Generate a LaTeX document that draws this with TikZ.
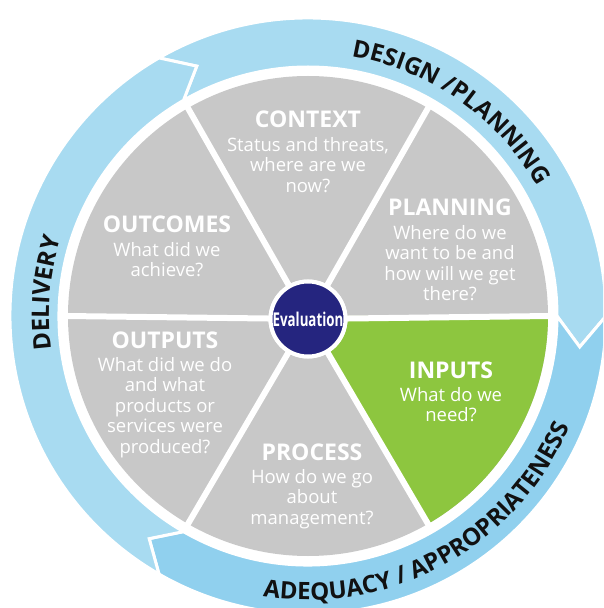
\documentclass[tikz,border=0pt]{standalone}
\usepackage{fontspec}
\setmainfont{Open Sans}
\usetikzlibrary{positioning, decorations.text}
\definecolor{wheelgray}{HTML}{C8C8C8}
\definecolor{inpgreen}{HTML}{8DC63F}
\definecolor{evalnavy}{HTML}{25257F}
\definecolor{ringlight}{HTML}{A8DBF1}
\definecolor{ringdark}{HTML}{90D0EE}
\definecolor{ringink}{HTML}{111111}

\begin{document}
\begin{tikzpicture}[%
		x=1pt, y=1pt,
		heading/.style={
			text=white,
			font=\fontsize{23}{23}\selectfont\bfseries,
			inner sep=0pt,
			text height=16pt,
			text depth=0pt
		},
		question/.style={
			text=white,
			font=\fontsize{18.5}{20.5}\selectfont,
			align=center,
			inner sep=0pt
		},
		hub/.style={
			circle,
			fill=evalnavy,
			draw=white,
			line width=4pt,
			minimum size=75pt,
			inner sep=0pt,
			text=white,
			font=\fontsize{19}{19}\selectfont\bfseries
		},
		divider/.style={
			white,
			line width=6pt
		},
		ringseg/.style={
			draw=white,
			line width=3pt
		},
		ringtext/.style={
			decorate,
			decoration={text along path, text align=center,
				text={|\fontsize{24}{24}\selectfont\bfseries\color{ringink}|#1}}
		}]

		\useasboundingbox (-308,-292) rectangle (295,316);
		\clip (-308,-292) rectangle (295,316);

		% OUTER RING

		\filldraw[ringseg, fill=ringlight] (120:298) arc[start angle=120, end angle=0, radius=298] -- (-6.5:273.5) -- (0:249) arc[start angle=0, end angle=120, radius=249] -- (114:273.5) -- cycle;
		\filldraw[ringseg, fill=ringdark] (0:298) arc[start angle=0, end angle=-120, radius=298] -- (-125.5:273.5) -- (-120:249) arc[start angle=-120, end angle=0, radius=249] -- (-6.5:273.5) -- cycle;
		\filldraw[ringseg, fill=ringlight] (240:298) arc[start angle=240, end angle=120, radius=298] -- (114:273.5) -- (120:249) arc[start angle=120, end angle=240, radius=249] -- (234.5:273.5) -- cycle;

		\path[ringtext={DESIGN /PLANNING}] (86:263) arc[start angle=86, end angle=24, radius=263];
		\path[ringtext={ADEQUACY / APPROPRIATENESS}] (248:284) arc[start angle=248, end angle=350, radius=284];
		\path[ringtext={DELIVERY}] (200:259) arc[start angle=200, end angle=150, radius=259];

		% WHEEL

		\fill[wheelgray] (0,0) circle[radius=240];
		\fill[inpgreen] (0,0) -- (0:240) arc[start angle=0, end angle=-60, radius=240] -- cycle;

		\coordinate (rim0) at (0:242);
		\coordinate (rim60) at (60:242);
		\coordinate (rim120) at (120:242);
		\coordinate (rim180) at (180:242);
		\coordinate (rim240) at (240:242);
		\coordinate (rim300) at (300:242);

		\node (eval) [hub] at (0,-3) {\scalebox{0.7}[1]{Evaluation}};

		\draw[divider] (eval.center) -- (rim0);
		\draw[divider] (eval.center) -- (rim60);
		\draw[divider] (eval.center) -- (rim120);
		\draw[divider] (eval.center) -- (rim180);
		\draw[divider] (eval.center) -- (rim240);
		\draw[divider] (eval.center) -- (rim300);
		\node (eval) [hub] at (0,-3) {\scalebox{0.7}[1]{Evaluation}};

		% SEGMENTS

		\node (ctx) [heading] at (0,196) {CONTEXT};
		\node (ctxq) [question, below=9pt of ctx] {Status and threats,\\where are we\\now?};

		\node (plan) [heading] at (142,108) {PLANNING};
		\node (planq) [question, below=9pt of plan] {Where do we\\want to be and\\how will we get\\there?};

		\node (inp) [heading] at (143,-54) {INPUTS};
		\node (inpq) [question, below=9pt of inp] {What do we\\need?};

		\node (proc) [heading] at (4,-136) {PROCESS};
		\node (procq) [question, below=9pt of proc] {How do we go\\about\\management?};

		\node (outp) [heading] at (-143,-24) {OUTPUTS};
		\node (outpq) [question, below=9pt of outp] {What did we do\\and what\\products or\\services were\\produced?};

		\node (outc) [heading] at (-141,91) {OUTCOMES};
		\node (outcq) [question, below=9pt of outc] {What did we\\achieve?};
\end{tikzpicture}
\end{document}
